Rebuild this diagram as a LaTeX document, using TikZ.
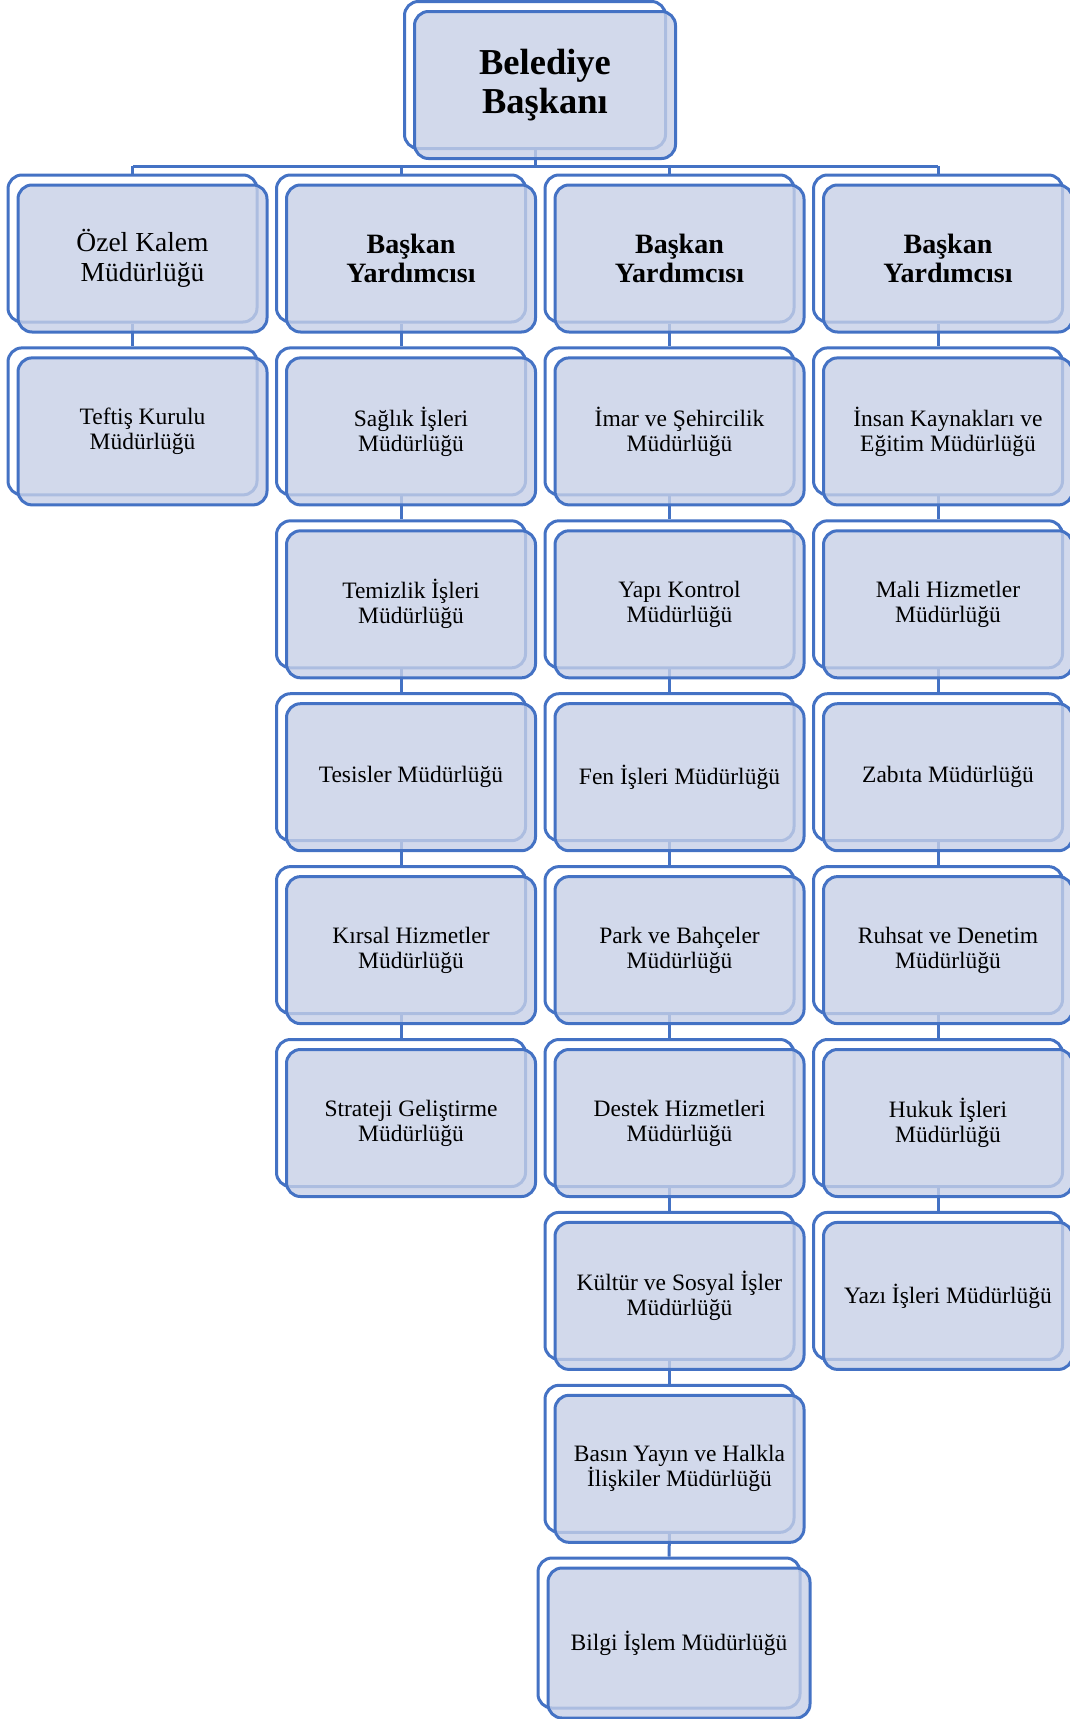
\documentclass[tikz,border=0pt]{standalone}
\usepackage{fontspec}
\setmainfont{Liberation Serif}
\usetikzlibrary{positioning}
\definecolor{unitblue}{HTML}{4472C4}
\definecolor{unitfill}{RGB}{199,208,231}
\pgfdeclarelayer{backboxes}
\pgfdeclarelayer{links}
\pgfsetlayers{backboxes,links,main}
\tikzset{
  unit/.style={rounded corners=14pt, draw=unitblue, line width=3pt, align=center,
    inner sep=0pt, minimum width=249pt, minimum height=147pt},
  sub/.style={unit, font=\fontsize{23.5}{25}\selectfont},
  head/.style={unit, font=\fontsize{27.5}{29.5}\selectfont},
  deputy/.style={unit, font=\fontsize{28}{29.5}\selectfont\bfseries},
  mayor/.style={unit, minimum width=261pt, font=\fontsize{36.5}{39.5}\selectfont\bfseries},
  widesub/.style={sub, minimum width=262pt, minimum height=150pt},
  link/.style={draw=unitblue, line width=3pt}
}
% one unit = white back card + tinted front card
\newcommand{\orgunit}[5][sub]{%
  \begin{pgfonlayer}{backboxes}
    \node[#1, fill=white, xshift=-10pt, yshift=10pt] (#2-b) at (#3,#4) {};
  \end{pgfonlayer}
  \node[#1, fill=unitfill, fill opacity=0.8, text opacity=1] (#2) at (#3,#4) {#5};
}

\begin{document}
\begin{tikzpicture}[x=1pt, y=-1pt]
  \useasboundingbox (0,0) rectangle (1070,1719);

  % mayor
  \orgunit[mayor]{baskan}{545}{85}{Belediye\\Başkanı}

  % column 1
  \orgunit[head]{ozel}{142.5}{258.5}{Özel Kalem\\Müdürlüğü}
  \orgunit{teftis}{142.5}{431.4}{Teftiş Kurulu\\Müdürlüğü}

  % column 2
  \orgunit[deputy]{by2}{411}{258.5}{Başkan\\Yardımcısı}
  \orgunit{saglik}{411}{431.4}{Sağlık İşleri\\Müdürlüğü}
  \orgunit{temizlik}{411}{604.3}{Temizlik İşleri\\Müdürlüğü}
  \orgunit{tesisler}{411}{777.2}{Tesisler Müdürlüğü}
  \orgunit{kirsal}{411}{950.1}{Kırsal Hizmetler\\Müdürlüğü}
  \orgunit{strateji}{411}{1123}{Strateji Geliştirme\\Müdürlüğü}

  % column 3
  \orgunit[deputy]{by3}{679.5}{258.5}{Başkan\\Yardımcısı}
  \orgunit{imar}{679.5}{431.4}{İmar ve Şehircilik\\Müdürlüğü}
  \orgunit{yapi}{679.5}{604.3}{Yapı Kontrol\\Müdürlüğü}
  \orgunit{fen}{679.5}{777.2}{Fen İşleri Müdürlüğü}
  \orgunit{park}{679.5}{950.1}{Park ve Bahçeler\\Müdürlüğü}
  \orgunit{destek}{679.5}{1123}{Destek Hizmetleri\\Müdürlüğü}
  \orgunit{kultur}{679.5}{1295.9}{Kültür ve Sosyal İşler\\Müdürlüğü}
  \orgunit{basin}{679.5}{1468.8}{Basın Yayın ve Halkla\\İlişkiler Müdürlüğü}
  \orgunit[widesub]{bilgi}{679}{1643}{Bilgi İşlem Müdürlüğü}

  % column 4
  \orgunit[deputy]{by4}{948}{258.5}{Başkan\\Yardımcısı}
  \orgunit{insan}{948}{431.4}{İnsan Kaynakları ve\\Eğitim Müdürlüğü}
  \orgunit{mali}{948}{604.3}{Mali Hizmetler\\Müdürlüğü}
  \orgunit{zabita}{948}{777.2}{Zabıta Müdürlüğü}
  \orgunit{ruhsat}{948}{950.1}{Ruhsat ve Denetim\\Müdürlüğü}
  \orgunit{hukuk}{948}{1123}{Hukuk İşleri\\Müdürlüğü}
  \orgunit{yazi}{948}{1295.9}{Yazı İşleri Müdürlüğü}

  % connectors
  \begin{pgfonlayer}{links}
    \coordinate (bus) at (0,166);
    \draw[link] (baskan-b.south) -- (baskan-b.south |- bus);
    \draw[link] (ozel-b.north |- bus) -- (by4-b.north |- bus);
    \foreach \up in {ozel,by2,by3,by4}
      \draw[link] (\up-b.north) -- (\up-b.north |- bus);
    \foreach \up/\lo in {ozel/teftis, by2/saglik, saglik/temizlik, temizlik/tesisler,
        tesisler/kirsal, kirsal/strateji, by3/imar, imar/yapi, yapi/fen, fen/park,
        park/destek, destek/kultur, kultur/basin, basin/bilgi, by4/insan, insan/mali,
        mali/zabita, zabita/ruhsat, ruhsat/hukuk, hukuk/yazi}
      \draw[link] (\up-b.south) -- (\lo-b.north);
  \end{pgfonlayer}
\end{tikzpicture}
\end{document}
